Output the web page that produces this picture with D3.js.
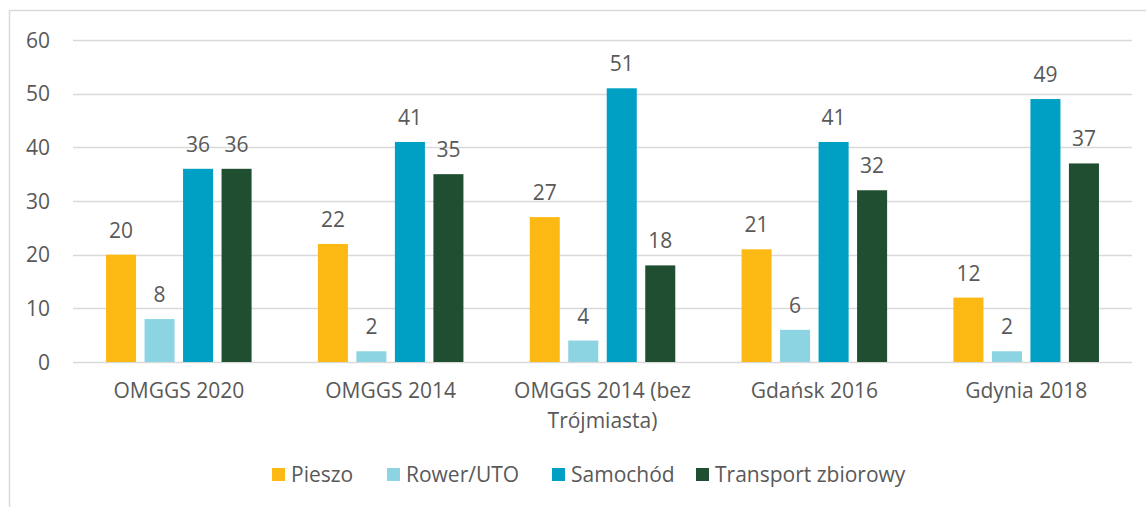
<!DOCTYPE html>
<html>
<head>
<meta charset="utf-8">
<script src="https://cdn.jsdelivr.net/npm/d3@7"></script>
<style>
  body { margin: 0; background: #fff; }
  svg text { font-family: "Open Sans", Lato, sans-serif; fill: #595959; }
</style>
</head>
<body>
<svg class="chart" width="1146" height="507"></svg>
<script>
// Data
const categories = ["OMGGS 2020", "OMGGS 2014", "OMGGS 2014 (bez Trójmiasta)", "Gdańsk 2016", "Gdynia 2018"];
const seriesNames = ["Pieszo", "Rower/UTO", "Samochód", "Transport zbiorowy"];
const pieszo = [20, 22, 27, 21, 12];
const rower = [8, 2, 4, 6, 2];
const samochod = [36, 41, 51, 41, 49];
const transport = [36, 35, 18, 32, 37];
const yTicks = [0, 10, 20, 30, 40, 50, 60];
const colors = ["#FDB913", "#8CD4E2", "#00A0C4", "#1F4E30"];

const seriesValues = [pieszo, rower, samochod, transport];

const svg = d3.select(".chart");
const margin = { top: 40, left: 73, right: 14, bottom: 145 };
const width = +svg.attr("width");
const height = +svg.attr("height");
const fontSize = "21px";

// outer frame
svg.append("rect")
  .attr("x", 9.5).attr("y", 10.5)
  .attr("width", width + 10).attr("height", height + 10)
  .attr("fill", "none").attr("stroke", "#d9d9d9").attr("stroke-width", 1.5);

const x0 = d3.scaleBand()
  .domain(categories)
  .range([margin.left, width - margin.right])
  .paddingInner(0.233).paddingOuter(0.116);

const x1 = d3.scaleBand()
  .domain(seriesNames)
  .range([0, x0.bandwidth()])
  .padding(0.22);

const y = d3.scaleLinear()
  .domain([0, 60])
  .range([362, 40]);

// gridlines
svg.append("g")
  .selectAll("line")
  .data(yTicks)
  .join("line")
  .attr("x1", margin.left).attr("x2", width - margin.right)
  .attr("y1", d => Math.round(y(d)) + 0.5).attr("y2", d => Math.round(y(d)) + 0.5)
  .attr("stroke", "#d9d9d9").attr("stroke-width", 1.5);

// y labels
svg.append("g")
  .selectAll("text")
  .data(yTicks)
  .join("text")
  .attr("x", 50)
  .attr("y", d => y(d))
  .attr("dy", "0.36em")
  .attr("text-anchor", "end")
  .style("font-size", fontSize)
  .text(d => d);

// bars
const rows = [];
categories.forEach((c, i) => {
  seriesNames.forEach((s, j) => {
    rows.push({ cat: c, series: s, value: seriesValues[j][i], color: colors[j] });
  });
});

svg.append("g")
  .selectAll("rect")
  .data(rows)
  .join("rect")
  .attr("x", d => x0(d.cat) + x1(d.series))
  .attr("y", d => y(d.value))
  .attr("width", x1.bandwidth())
  .attr("height", d => y(0) - y(d.value))
  .attr("fill", d => d.color);

// value labels
svg.append("g")
  .selectAll("text")
  .data(rows)
  .join("text")
  .attr("x", d => x0(d.cat) + x1(d.series) + x1.bandwidth() / 2)
  .attr("y", d => y(d.value) - 17)
  .attr("text-anchor", "middle")
  .style("font-size", fontSize)
  .text(d => d.value);

// category labels with wrapping
const catText = svg.append("g")
  .selectAll("text")
  .data(categories)
  .join("text")
  .attr("x", d => x0(d) + x0.bandwidth() / 2)
  .attr("y", 398)
  .attr("text-anchor", "middle")
  .style("font-size", fontSize);

catText.each(function(d) {
  const t = d3.select(this);
  const maxW = x0.step() * 0.85;
  const words = d.split(" ");
  let line = [];
  let tspan = t.append("tspan").attr("x", t.attr("x")).attr("dy", 0);
  words.forEach(w => {
    line.push(w);
    tspan.text(line.join(" "));
    if (tspan.node().getComputedTextLength() > maxW && line.length > 1) {
      line.pop();
      tspan.text(line.join(" "));
      line = [w];
      tspan = t.append("tspan").attr("x", t.attr("x")).attr("dy", 30).text(w);
    }
  });
});

// legend
const legendX = [272, 387, 552, 696];
const legend = svg.append("g")
  .selectAll("g")
  .data(seriesNames)
  .join("g")
  .attr("transform", (d, i) => `translate(${legendX[i]},475)`);

legend.append("rect")
  .attr("x", 0).attr("y", -7)
  .attr("width", 13).attr("height", 13)
  .attr("fill", (d, i) => colors[i]);

legend.append("text")
  .attr("x", 19)
  .attr("y", 7)
  .style("font-size", fontSize)
  .text(d => d);
</script>
</body>
</html>
